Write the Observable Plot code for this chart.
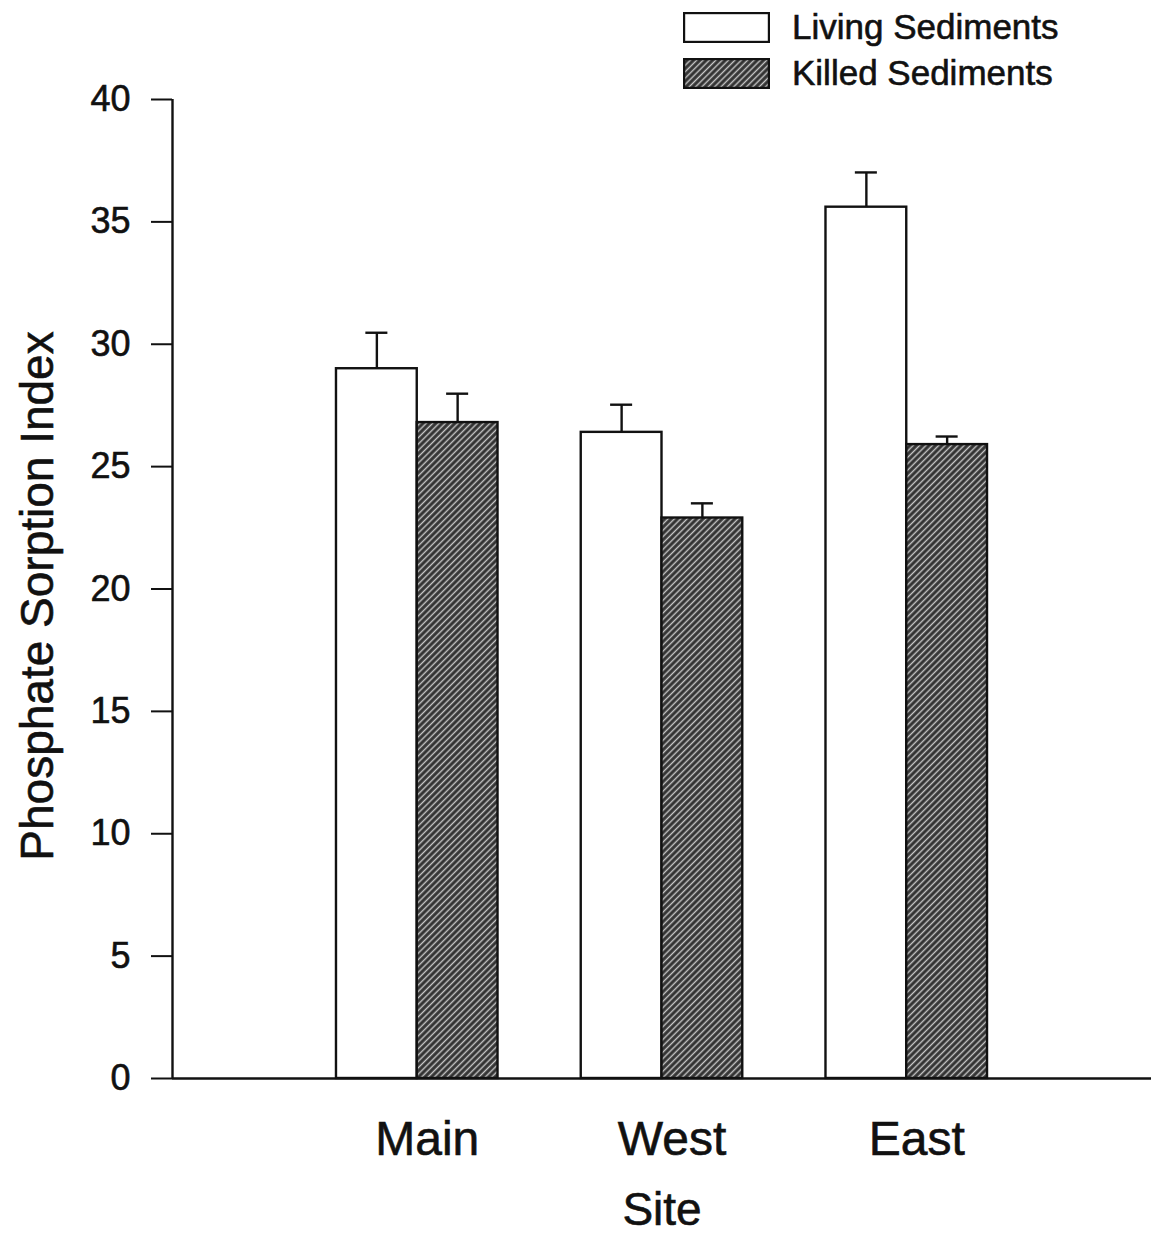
<!DOCTYPE html>
<html>
<head>
<meta charset="utf-8">
<script src="https://cdn.jsdelivr.net/npm/d3@7"></script>
<script src="https://cdn.jsdelivr.net/npm/@observablehq/plot@0.6"></script>
<style>
  html, body { margin: 0; padding: 0; background: #fff; }
  #wrap { position: relative; width: 1151px; height: 1234px; font-family: "Liberation Sans", Arial, sans-serif; color: #111; }
  #legend { position: absolute; left: 683px; top: 4px; }
  .item { display: flex; align-items: center; height: 46px; font-size: 35px; -webkit-text-stroke: 0.6px #111; }
  .item svg { margin-right: 22px; }
  #chart text { stroke: #111; stroke-width: 0.6px; }
</style>
</head>
<body>
<div id="wrap">
  <div id="chart"></div>
  <div id="legend"></div>
</div>
<script>
const sites = ["Main", "West", "East"];
const living = [29.0, 26.4, 35.6];
const livingSE = [1.47, 1.13, 1.42];
const killed = [26.8, 22.9, 25.9];
const killedSE = [1.18, 0.6, 0.33];
const groups = ["Living Sediments", "Killed Sediments"];
const yTicks = [0, 5, 10, 15, 20, 25, 30, 35, 40];

const barW = 0.33;
const capW = 0.045;

const rows = sites.flatMap((s, i) => [
  {site: s, pos: i + 1, group: groups[0], value: living[i], se: livingSE[i], x1: i + 1 - barW, x2: i + 1},
  {site: s, pos: i + 1, group: groups[1], value: killed[i], se: killedSE[i], x1: i + 1, x2: i + 1 + barW}
]).map(d => ({...d, xc: (d.x1 + d.x2) / 2, top: d.value + d.se}));

const ink = "#111";

const chart = Plot.plot({
  width: 1151,
  height: 1234,
  marginLeft: 172,
  marginRight: 0,
  marginTop: 99,
  marginBottom: 156,
  style: {fontFamily: "Liberation Sans, Arial, sans-serif", color: ink, background: "white", overflow: "visible"},
  x: {type: "linear", domain: [0, 4]},
  y: {domain: [0, 40]},
  marks: [
    Plot.axisY({ticks: yTicks, tickSize: 21, tickPadding: 21, fontSize: 36, strokeWidth: 2, label: null}),
    Plot.axisX({ticks: [1, 2, 3], tickFormat: d => sites[d - 1], tickSize: 0, tickPadding: 42, fontSize: 48, dx: 10, label: null}),
    Plot.rectY(rows.filter(d => d.group === groups[0]), {x1: "x1", x2: "x2", y: "value", fill: "white", stroke: ink, strokeWidth: 2.4}),
    Plot.rectY(rows.filter(d => d.group === groups[1]), {x1: "x1", x2: "x2", y: "value", fill: "url(#hatch)", stroke: ink, strokeWidth: 2.4}),
    Plot.ruleX(rows, {x: "xc", y1: "value", y2: "top", stroke: ink, strokeWidth: 2.4}),
    Plot.ruleY(rows, {y: "top", x1: d => d.xc - capW, x2: d => d.xc + capW, stroke: ink, strokeWidth: 2.4}),
    Plot.ruleX([0], {stroke: ink, strokeWidth: 2.4}),
    Plot.ruleY([0], {stroke: ink, strokeWidth: 2.4}),
    Plot.text(["Phosphate Sorption Index"], {frameAnchor: "left", textAnchor: "middle", lineAnchor: "middle", rotate: -90, dx: -134, dy: 7, fontSize: 46, fill: ink}),
    Plot.text(["Site"], {frameAnchor: "bottom", textAnchor: "middle", lineAnchor: "middle", dy: 132, fontSize: 46, fill: ink})
  ]
});

function addPattern(svgSel, id) {
  const defs = svgSel.insert("defs", ":first-child");
  const p = defs.append("pattern")
    .attr("id", id)
    .attr("patternUnits", "userSpaceOnUse")
    .attr("width", 4.5).attr("height", 4.5)
    .attr("patternTransform", "rotate(45)");
  p.append("rect").attr("width", 4.5).attr("height", 4.5).attr("fill", "#333");
  p.append("line").attr("x1", 2.25).attr("x2", 2.25).attr("y1", 0).attr("y2", 4.5)
    .attr("stroke", "#c8c8c8").attr("stroke-width", 1.4);
}
addPattern(d3.select(chart), "hatch");
document.getElementById("chart").appendChild(chart);

// legend
const legend = d3.select("#legend");
groups.forEach((g, i) => {
  const item = legend.append("div").attr("class", "item");
  const sw = item.append("svg").attr("width", 87).attr("height", 31);
  if (i === 1) addPattern(sw, "hatchLegend");
  sw.append("rect").attr("x", 1).attr("y", 1).attr("width", 85).attr("height", 29)
    .attr("fill", i === 0 ? "white" : "url(#hatchLegend)")
    .attr("stroke", ink).attr("stroke-width", 2.4);
  item.append("span").text(g);
});
</script>
</body>
</html>
